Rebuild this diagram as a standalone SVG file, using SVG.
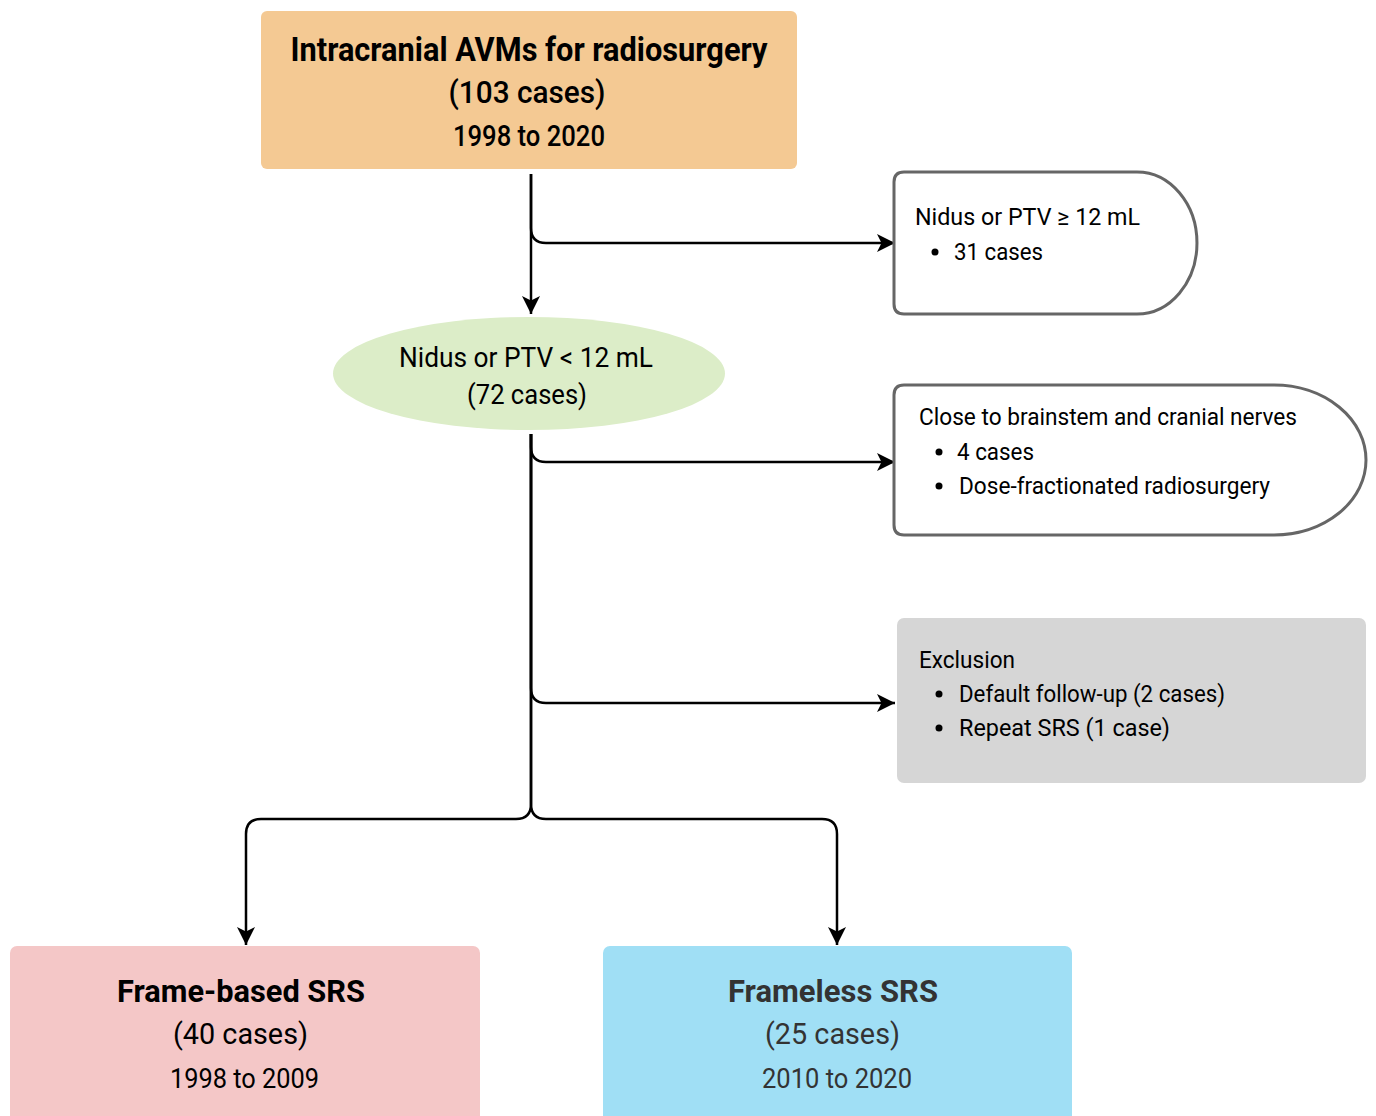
<svg xmlns="http://www.w3.org/2000/svg" width="1376" height="1116" viewBox="0 0 1376 1116">
<defs>
<style>
text{font-family:Roboto,"Liberation Sans",sans-serif;fill:#000}
.b{font-weight:bold}
.c{text-anchor:middle}
.conn{fill:none;stroke:#000;stroke-width:2.5;marker-end:url(#arr)}
.side{fill:#fff;stroke:#666;stroke-width:3}
.s24{font-size:24px}
.dk{fill:#333}
</style>
<marker id="arr" markerUnits="userSpaceOnUse" markerWidth="20" markerHeight="20" viewBox="0 0 20 20" refX="18" refY="9" orient="auto">
<path d="M0,0 L18,9 L0,18 L4.5,9 Z" fill="#000"/>
</marker>
</defs>
<rect width="1376" height="1116" fill="#fff"/>
<g id="connectors">
<path class="conn" d="M531,174 L531,314"/>
<path class="conn" d="M531,174 L531,228 Q531,243 546,243 L895,243"/>
<path class="conn" d="M531,434 L531,447 Q531,462 546,462 L895,462"/>
<path class="conn" d="M531,434 L531,688 Q531,703 546,703 L895,703"/>
<path class="conn" d="M531,434 L531,804 Q531,819 516,819 L261,819 Q246,819 246,834 L246,945"/>
<path class="conn" d="M531,434 L531,804 Q531,819 546,819 L822,819 Q837,819 837,834 L837,945"/>
</g>
<g id="node-top">
<rect x="261" y="11" width="536" height="158" rx="6" fill="#f4c993"/>
<text class="b c" x="529" y="61" font-size="33" textLength="477" lengthAdjust="spacingAndGlyphs">Intracranial AVMs for radiosurgery</text>
<text class="c" x="527" y="103" font-size="31" font-weight="500" textLength="157" lengthAdjust="spacingAndGlyphs">(103 cases)</text>
<text class="c" x="529" y="146" font-size="29" font-weight="500" textLength="152" lengthAdjust="spacingAndGlyphs">1998 to 2020</text>
</g>
<g id="node-large">
<path class="side" d="M904,172 L1137,172 A60,71 0 0 1 1137,314 L904,314 Q894,314 894,304 L894,182 Q894,172 904,172 Z"/>
<text class="s24" x="915" y="225" textLength="225" lengthAdjust="spacingAndGlyphs">Nidus or PTV ≥ 12 mL</text>
<circle cx="935" cy="252" r="3.5" fill="#000"/>
<text class="s24" x="954" y="260" textLength="89" lengthAdjust="spacingAndGlyphs">31 cases</text>
</g>
<g id="node-small">
<ellipse cx="529" cy="373.5" rx="196" ry="56.5" fill="#dcedc8"/>
<text class="c" x="526" y="367" font-size="28" textLength="254" lengthAdjust="spacingAndGlyphs">Nidus or PTV &lt; 12 mL</text>
<text class="c" x="527" y="404" font-size="28" textLength="120" lengthAdjust="spacingAndGlyphs">(72 cases)</text>
</g>
<g id="node-brainstem">
<path class="side" d="M904,385 L1274,385 A92,75 0 0 1 1274,535 L904,535 Q894,535 894,525 L894,395 Q894,385 904,385 Z"/>
<text class="s24" x="919" y="425" textLength="378" lengthAdjust="spacingAndGlyphs">Close to brainstem and cranial nerves</text>
<circle cx="939" cy="452" r="3.5" fill="#000"/>
<text class="s24" x="957" y="460" textLength="77" lengthAdjust="spacingAndGlyphs">4 cases</text>
<circle cx="939" cy="486" r="3.5" fill="#000"/>
<text class="s24" x="959" y="494" textLength="311" lengthAdjust="spacingAndGlyphs">Dose-fractionated radiosurgery</text>
</g>
<g id="node-exclusion">
<rect x="897" y="618" width="469" height="165" rx="7" fill="#d6d6d6"/>
<text class="s24" x="919" y="668" textLength="96" lengthAdjust="spacingAndGlyphs">Exclusion</text>
<circle cx="939" cy="694" r="3.5" fill="#000"/>
<text class="s24" x="959" y="702" textLength="266" lengthAdjust="spacingAndGlyphs">Default follow-up (2 cases)</text>
<circle cx="939" cy="728" r="3.5" fill="#000"/>
<text class="s24" x="959" y="736" textLength="211" lengthAdjust="spacingAndGlyphs">Repeat SRS (1 case)</text>
</g>
<g id="node-frame">
<rect x="10" y="946" width="470" height="190" rx="7" fill="#f4c7c7"/>
<text class="b c" x="241" y="1002" font-size="32" textLength="248" lengthAdjust="spacingAndGlyphs">Frame-based SRS</text>
<text class="c" x="240.5" y="1044" font-size="30" textLength="135" lengthAdjust="spacingAndGlyphs">(40 cases)</text>
<text class="c" x="244.5" y="1088" font-size="28" textLength="149" lengthAdjust="spacingAndGlyphs">1998 to 2009</text>
</g>
<g id="node-frameless">
<rect x="603" y="946" width="469" height="190" rx="7" fill="#a0dff5"/>
<text class="b c dk" x="833" y="1002" font-size="32" textLength="210" lengthAdjust="spacingAndGlyphs">Frameless SRS</text>
<text class="c dk" x="832.5" y="1044" font-size="30" textLength="135" lengthAdjust="spacingAndGlyphs">(25 cases)</text>
<text class="c dk" x="837" y="1088" font-size="28" textLength="150" lengthAdjust="spacingAndGlyphs">2010 to 2020</text>
</g>
</svg>
